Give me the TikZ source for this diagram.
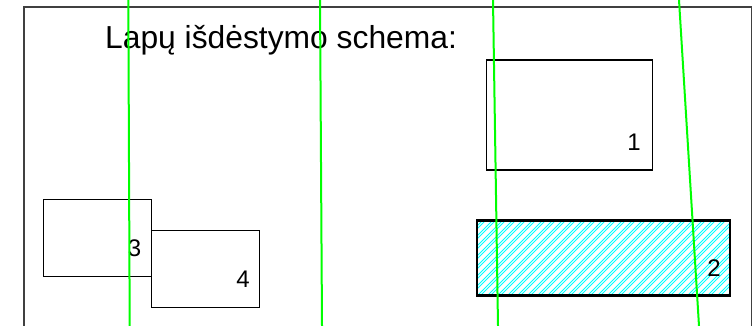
\documentclass[tikz,border=0pt]{standalone}
\usepackage{fontspec}
\setmainfont{Liberation Sans}
\begin{document}
\begin{tikzpicture}[x=1pt,y=-1pt,
  frameline/.style={draw=black!75,line width=1.3pt},
  sheet/.style={draw=black,line width=1.1pt,inner sep=0pt,outer sep=0pt,fill=none},
  thicksheet/.style={sheet,line width=2.2pt},
  hatchline/.style={draw={rgb,1:red,0;green,1;blue,1},line width=1pt},
  guide/.style={draw={rgb,1:red,0;green,1;blue,0},line width=2pt},
  num/.style={inner sep=0pt,font=\fontsize{24}{28}\selectfont},
  title/.style={inner sep=0pt,font=\fontsize{31.8}{38}\selectfont}]
\useasboundingbox (0,0) rectangle (754,326);
% outer frame (open at the bottom)
\coordinate (fbl) at (24,326);
\coordinate (ftl) at (24,7);
\coordinate (ftr) at (751.5,7);
\coordinate (fbr) at (751.5,326);
\draw[frameline] (fbl) -- (ftl) -- (ftr) -- (fbr);
% title
\node[title,anchor=base west] (t) at (105,49) {Lapų išdėstymo schema:};
% sheets
\node[sheet,minimum width=166pt,minimum height=110pt] (r1) at (569.7,115) {};
\node[sheet,minimum width=108.4pt,minimum height=76.6pt] (r3) at (97.5,238) {};
\node[sheet,minimum width=108pt,minimum height=76.6pt] (r4) at (205.7,269) {};
% hatched sheet 2
\node[thicksheet,draw=none,minimum width=253pt,minimum height=75pt] (r2) at (603.5,258) {};
\begin{scope}
  \clip (r2.south west) rectangle (r2.north east);
  \foreach \k in {-90,-80,...,260}{
    \draw[hatchline] (477+\k,296) -- ++(77,-77);
    \draw[hatchline] (480+\k,296) -- ++(77,-77);
  }
\end{scope}
\draw[thicksheet] (r2.south west) rectangle (r2.north east);
% labels
\node[num] (n1) at (634,142) {1};
\node[num] (n2) at (714,268) {2};
\node[num] (n3) at (134.5,248) {3};
\node[num] (n4) at (243,279) {4};
% green guide lines
\coordinate (ga1) at (128.3,0); \coordinate (ga2) at (129.7,326);
\coordinate (gb1) at (320,0);   \coordinate (gb2) at (322,326);
\coordinate (gc1) at (493,0);   \coordinate (gc2) at (498,326);
\coordinate (gd1) at (679,0);   \coordinate (gd2) at (699,326);
\draw[guide] (ga1) -- (ga2);
\draw[guide] (gb1) -- (gb2);
\draw[guide] (gc1) -- (gc2);
\draw[guide] (gd1) -- (gd2);
\end{tikzpicture}
\end{document}
